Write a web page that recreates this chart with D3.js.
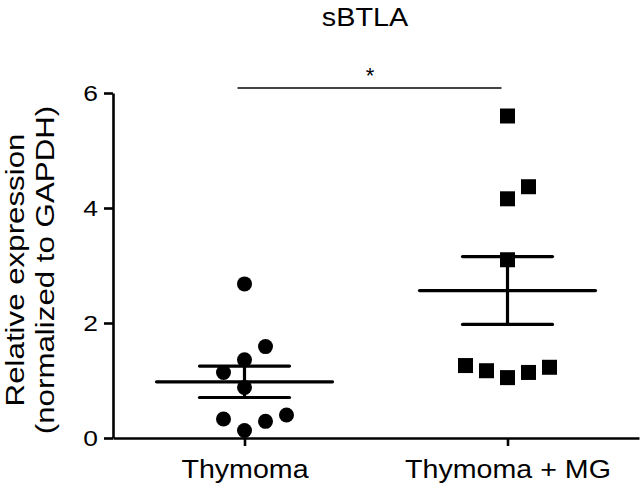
<!DOCTYPE html>
<html>
<head>
<meta charset="utf-8">
<script src="https://cdn.jsdelivr.net/npm/d3@7"></script>
<style>
  body { margin: 0; background: #fff; }
  text { font-family: "Liberation Sans", Arial, Helvetica, sans-serif; fill: #000; }
</style>
</head>
<body>
<div id="container"></div>
<script>
// groups and values
const groups = ["Thymoma", "Thymoma + MG"];
const thymomaValues = [2.68, 1.59, 1.36, 1.14, 0.88, 0.33, 0.29, 0.40, 0.13];
const thymomaCols   = [0, 1, 0, -1, 0, -1, 1, 2, 0];
const mgValues = [5.60, 4.37, 4.16, 3.10, 1.26, 1.17, 1.05, 1.14, 1.23];
const mgCols   = [0, 1, 0, 0, -2, -1, 0, 1, 2];
const yTicks = [0, 2, 4, 6];
const title = "sBTLA";
const yLabel = ["Relative expression", "(normalized to GAPDH)"];
const sigMark = "*";

const width = 642, height = 488;
const series = [
  { group: groups[0], values: thymomaValues, cols: thymomaCols, shape: "circle" },
  { group: groups[1], values: mgValues, cols: mgCols, shape: "square" }
];

const svg = d3.select("#container")
  .append("svg")
    .attr("width", width)
    .attr("height", height);

const x = d3.scalePoint()
  .domain(groups)
  .range([113, 639])
  .padding(0.5);

const y = d3.scaleLinear()
  .domain([0, 6])
  .range([438, 93]);

const jitter = 21, meanHalf = 88, capHalf = 45;

function stretch(sel, k) {
  sel.each(function() {
    const w = this.getComputedTextLength();
    d3.select(this).attr("textLength", w * k).attr("lengthAdjust", "spacingAndGlyphs");
  });
}

// y axis
const gy = svg.append("g")
  .attr("transform", "translate(113,0)")
  .call(d3.axisLeft(y).tickValues(yTicks).tickFormat(d3.format("d")).tickSize(9).tickPadding(6).tickSizeOuter(0));
gy.select(".domain").attr("stroke-width", 2.6).attr("stroke", "#000");
gy.selectAll(".tick line").attr("stroke-width", 2.6);
gy.selectAll(".tick text").attr("font-size", 22).attr("font-family", null).attr("fill", "#000")
  .attr("dy", "0.36em");
stretch(gy.selectAll(".tick text"), 1.2);

// x axis
const gx = svg.append("g")
  .attr("transform", "translate(0,438)")
  .call(d3.axisBottom(x).tickSize(8).tickPadding(14).tickSizeOuter(0));
gx.select(".domain").attr("stroke-width", 2.6).attr("stroke", "#000");
gx.selectAll(".tick line").attr("stroke-width", 2.6);
gx.selectAll(".tick text").attr("font-size", 26).attr("font-family", null).attr("fill", "#000");
stretch(gx.selectAll(".tick text"), 1.1);

// points
series.forEach(s => {
  const g = svg.append("g").attr("fill", "#000");
  const cx = (d, i) => x(s.group) + s.cols[i] * jitter;
  if (s.shape === "circle") {
    g.selectAll("circle")
      .data(s.values)
      .join("circle")
        .attr("cx", cx)
        .attr("cy", d => y(d))
        .attr("r", 7.5);
  } else {
    g.selectAll("rect")
      .data(s.values)
      .join("rect")
        .attr("x", (d, i) => cx(d, i) - 7.5)
        .attr("y", d => y(d) - 7.5)
        .attr("width", 15)
        .attr("height", 15);
  }

  // mean +/- SEM
  const m = d3.mean(s.values);
  const sem = d3.deviation(s.values) / Math.sqrt(s.values.length);
  const c = x(s.group);
  const e = svg.append("g").attr("stroke", "#000").attr("stroke-width", 3.2).attr("stroke-linecap", "round");
  e.append("line").attr("x1", c - meanHalf).attr("x2", c + meanHalf).attr("y1", y(m)).attr("y2", y(m));
  e.append("line").attr("x1", c).attr("x2", c).attr("y1", y(m - sem)).attr("y2", y(m + sem));
  [m - sem, m + sem].forEach(v => {
    e.append("line").attr("x1", c - capHalf).attr("x2", c + capHalf).attr("y1", y(v)).attr("y2", y(v));
  });
});

// significance bar
svg.append("line")
  .attr("x1", x(groups[0]) - 7).attr("x2", x(groups[1]) - 6)
  .attr("y1", 88).attr("y2", 88)
  .attr("stroke", "#444").attr("stroke-width", 2.2);
svg.append("text")
  .attr("x", (x(groups[0]) + x(groups[1])) / 2 - 6)
  .attr("y", 83)
  .attr("text-anchor", "middle")
  .attr("font-size", 22)
  .text(sigMark);

// title
const t = svg.append("text")
  .attr("x", 365).attr("y", 26)
  .attr("text-anchor", "middle")
  .attr("font-size", 25)
  .text(title);
stretch(t, 1.15);

// y label
const yl = svg.append("g")
  .attr("transform", "translate(0,270) rotate(-90)");
yl.selectAll("text")
  .data(yLabel)
  .join("text")
    .attr("x", 0)
    .attr("y", (d, i) => 24 + i * 30)
    .attr("text-anchor", "middle")
    .attr("font-size", 26.5)
    .text(d => d)
    .call(stretch, 1.18);
</script>
</body>
</html>
